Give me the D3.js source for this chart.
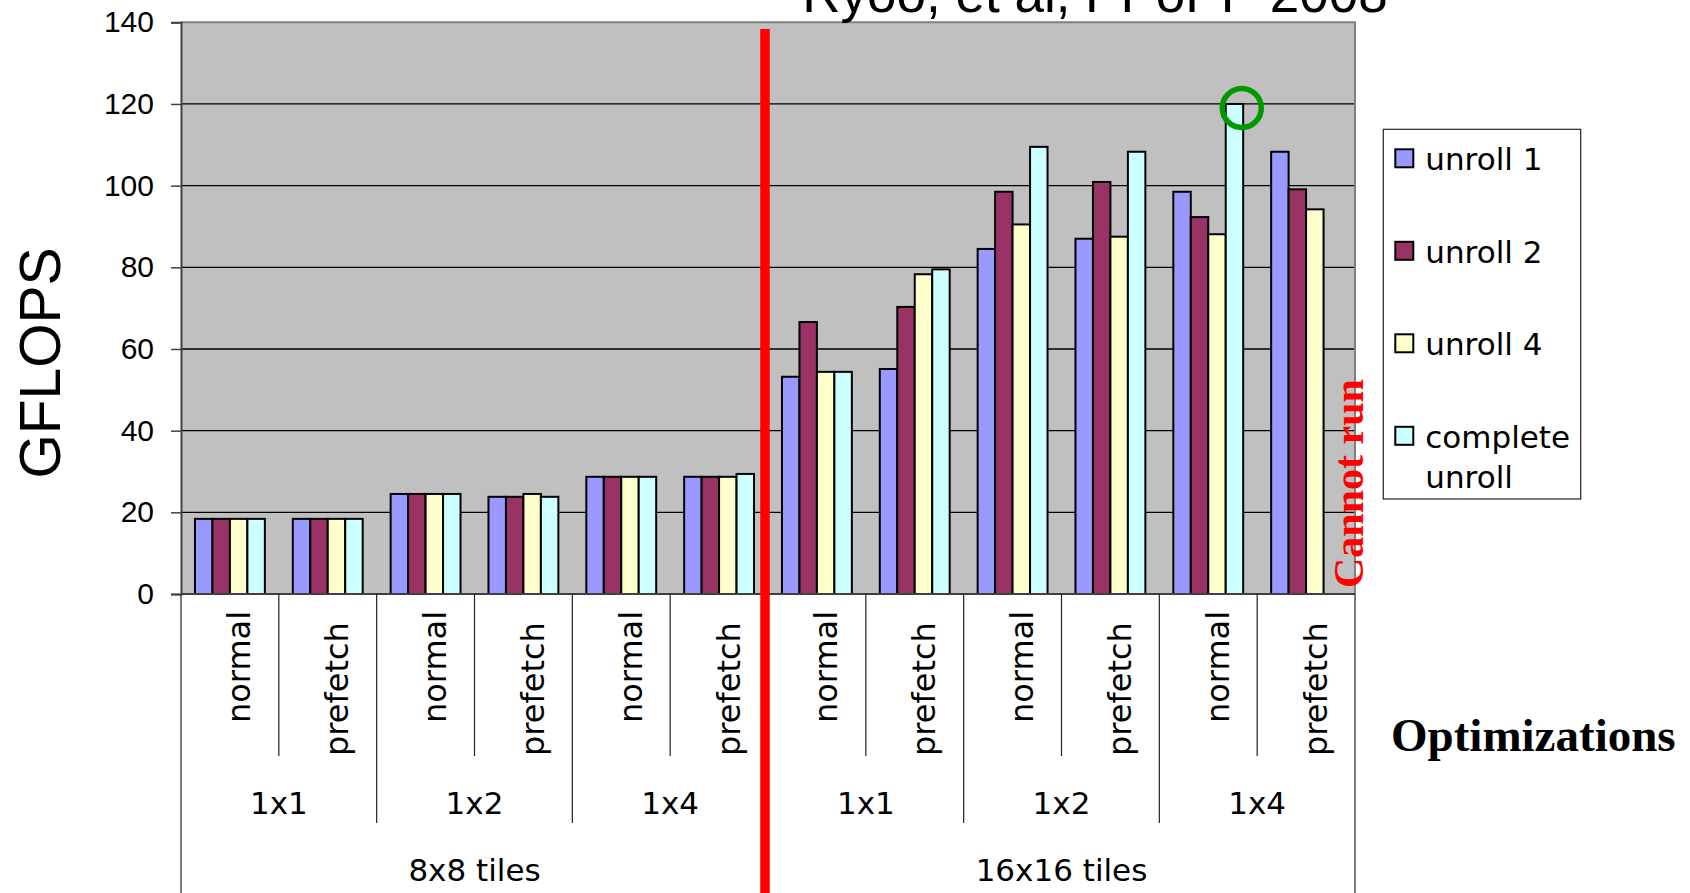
<!DOCTYPE html>
<html>
<head>
<meta charset="utf-8">
<script src="https://cdn.jsdelivr.net/npm/d3@7"></script>
<style>
  html, body { margin: 0; padding: 0; background: #ffffff; }
  svg { display: block; }
</style>
</head>
<body>
<svg id="chart" width="1690" height="893"></svg>
<script>
// ---- data -------------------------------------------------------------
const optimizations = ["normal", "prefetch", "normal", "prefetch", "normal", "prefetch",
                       "normal", "prefetch", "normal", "prefetch", "normal", "prefetch"];
const blockings = ["1x1", "1x2", "1x4", "1x1", "1x2", "1x4"];
const tileSizes = ["8x8 tiles", "16x16 tiles"];
const seriesNames = ["unroll 1", "unroll 2", "unroll 4", "complete unroll"];

const unroll1  = [18.4, 18.4, 24.5, 23.8, 28.7, 28.7, 53.2, 55.1, 84.5, 87.0, 98.5, 108.3];
const unroll2  = [18.4, 18.4, 24.5, 23.8, 28.7, 28.7, 66.6, 70.3, 98.5, 100.9, 92.3, 99.1];
const unroll4  = [18.4, 18.4, 24.5, 24.5, 28.7, 28.7, 54.4, 78.3, 90.5, 87.5, 88.1, 94.2];
const complete = [18.4, 18.4, 24.5, 23.8, 28.7, 29.4, 54.4, 79.5, 109.5, 108.3, 120, null];

const yTicks = [0, 20, 40, 60, 80, 100, 120, 140];

const seriesValues = [unroll1, unroll2, unroll4, complete];
const seriesColors = ["#9999FF", "#993366", "#FFFFCC", "#CCFFFF"];

// ---- layout ------------------------------------------------------------
const plot = { left: 181, right: 1355, top: 22.3, bottom: 594 };
const svg = d3.select("#chart");

const y = d3.scaleLinear().domain([0, 140]).range([plot.bottom, plot.top]);
const x0 = d3.scaleBand().domain(d3.range(optimizations.length))
  .range([plot.left, plot.right]).paddingInner(0).paddingOuter(0);
const x1 = d3.scaleBand().domain(d3.range(seriesNames.length))
  .range([0, x0.bandwidth()]).paddingInner(0).paddingOuter(0.8);

const SANS = "'Liberation Sans', Arial, sans-serif";
const WIDE = "'DejaVu Sans', Verdana, sans-serif";
const SERIF = "'Liberation Serif', 'Times New Roman', serif";

// plot area background
svg.append("rect")
  .attr("x", plot.left).attr("y", plot.top)
  .attr("width", plot.right - plot.left).attr("height", plot.bottom - plot.top)
  .attr("fill", "#C0C0C0");

// horizontal gridlines
svg.append("g").selectAll("line")
  .data(yTicks.filter(t => t > 0 && t < 140))
  .join("line")
  .attr("x1", plot.left).attr("x2", plot.right)
  .attr("y1", d => y(d)).attr("y2", d => y(d))
  .attr("stroke", "#000").attr("stroke-width", 1.3);

// plot frame (top / right)
svg.append("path")
  .attr("d", `M${plot.left},${plot.top}H${plot.right}V${plot.bottom}`)
  .attr("fill", "none").attr("stroke", "#808080").attr("stroke-width", 2);

// bars
const groups = svg.append("g").selectAll("g")
  .data(optimizations.map((o, i) => i))
  .join("g")
  .attr("transform", i => `translate(${x0(i)},0)`);

groups.selectAll("rect")
  .data(i => seriesValues.map((s, k) => ({ k, v: s[i] })).filter(d => d.v != null))
  .join("rect")
  .attr("x", d => x1(d.k))
  .attr("y", d => y(d.v))
  .attr("width", x1.bandwidth())
  .attr("height", d => y(0) - y(d.v))
  .attr("fill", d => seriesColors[d.k])
  .attr("stroke", "#000").attr("stroke-width", 2);

// y axis
const yAxis = d3.axisLeft(y).tickValues(yTicks).tickSize(10).tickPadding(17);
const ya = svg.append("g").attr("transform", `translate(${plot.left},0)`).call(yAxis);
ya.select(".domain").attr("stroke", "#404040").attr("stroke-width", 2);
ya.selectAll(".tick line").attr("stroke", "#404040").attr("stroke-width", 1.5);
ya.selectAll(".tick text").attr("font-family", SANS).attr("font-size", 30).attr("fill", "#000");

// baseline
svg.append("line")
  .attr("x1", plot.left).attr("x2", plot.right)
  .attr("y1", y(0)).attr("y2", y(0))
  .attr("stroke", "#404040").attr("stroke-width", 2);

// category dividers below the axis (three levels)
const bounds = d3.range(optimizations.length + 1);
const bx = i => i < optimizations.length ? x0(i) : plot.right;
svg.append("g").selectAll("line")
  .data(bounds)
  .join("line")
  .attr("x1", bx).attr("x2", bx)
  .attr("y1", y(0))
  .attr("y2", i => (i % 6 === 0) ? 893 : (i % 2 === 0 ? 823 : 756))
  .attr("stroke", "#222").attr("stroke-width", 1.2);

// optimization labels (rotated)
const labelStart = { normal: 723, prefetch: 756 };
svg.append("g").selectAll("text")
  .data(optimizations.map((o, i) => ({ o, i })))
  .join("text")
  .attr("transform", d => `translate(${x0(d.i) + x0.bandwidth() / 2 + 20.5},${labelStart[d.o]}) rotate(-90)`)
  .attr("font-family", WIDE).attr("font-size", 32)
  .attr("text-anchor", "start")
  .text(d => d.o);

// blocking labels
svg.append("g").selectAll("text")
  .data(blockings.map((b, j) => ({ b, j })))
  .join("text")
  .attr("x", d => x0(d.j * 2) + x0.bandwidth())
  .attr("y", 814)
  .attr("font-family", WIDE).attr("font-size", 31)
  .attr("text-anchor", "middle")
  .text(d => d.b);

// tile-size labels
svg.append("g").selectAll("text")
  .data(tileSizes.map((t, j) => ({ t, j })))
  .join("text")
  .attr("x", d => x0(d.j * 6) + x0.bandwidth() * 3)
  .attr("y", 881)
  .attr("font-family", WIDE).attr("font-size", 31)
  .attr("text-anchor", "middle")
  .text(d => d.t);

// separator between the two tile sizes
svg.append("line")
  .attr("x1", x0(6) - 3).attr("x2", x0(6) - 3)
  .attr("y1", 29).attr("y2", 893)
  .attr("stroke", "#FF0000").attr("stroke-width", 9.5);

// highlight the best configuration
const best = 10, bestSeries = 3;
svg.append("circle")
  .attr("cx", x0(best) + x1(bestSeries) + x1.bandwidth() * 0.92)
  .attr("cy", y(complete[best]) + 4)
  .attr("r", 19.5)
  .attr("fill", "none").attr("stroke", "#009900").attr("stroke-width", 5.5);

// "Cannot run" note for the missing bar
svg.append("text")
  .attr("transform", `translate(1363,588) rotate(-90)`)
  .attr("font-family", SERIF).attr("font-weight", "bold").attr("font-size", 42)
  .attr("fill", "#FF0000")
  .text("Cannot run");

// axis titles
svg.append("text")
  .attr("transform", `translate(60,363) rotate(-90)`)
  .attr("text-anchor", "middle")
  .attr("font-family", SANS).attr("font-size", 57)
  .text("GFLOPS");

svg.append("text")
  .attr("x", 1391).attr("y", 751)
  .attr("font-family", SERIF).attr("font-weight", "bold").attr("font-size", 47)
  .text("Optimizations");

// title (partly above the page edge)
svg.append("text")
  .attr("x", 1095).attr("y", 12)
  .attr("text-anchor", "middle")
  .attr("font-family", SANS).attr("font-size", 53)
  .text("Ryoo, et al, PPoPP 2008");

// legend
const legend = svg.append("g").attr("transform", "translate(1383.3,129.3)");
legend.append("rect")
  .attr("width", 197.4).attr("height", 369.7)
  .attr("fill", "#fff").attr("stroke", "#222").attr("stroke-width", 1.2);
const items = legend.selectAll("g.item")
  .data(seriesNames.map((n, k) => ({ n, k })))
  .join("g").attr("class", "item")
  .attr("transform", d => `translate(12,${20 + d.k * 92.5})`);
items.append("rect")
  .attr("width", 18).attr("height", 18)
  .attr("fill", d => seriesColors[d.k])
  .attr("stroke", "#000").attr("stroke-width", 2);
items.append("text")
  .attr("font-family", WIDE).attr("font-size", 31)
  .each(function (d) {
    const words = d.n === "complete unroll" ? ["complete", "unroll"] : [d.n];
    d3.select(this).selectAll("tspan")
      .data(words)
      .join("tspan")
      .attr("x", 30)
      .attr("y", (w, i) => 21 + i * 40)
      .text(w => w);
  });
</script>
</body>
</html>
